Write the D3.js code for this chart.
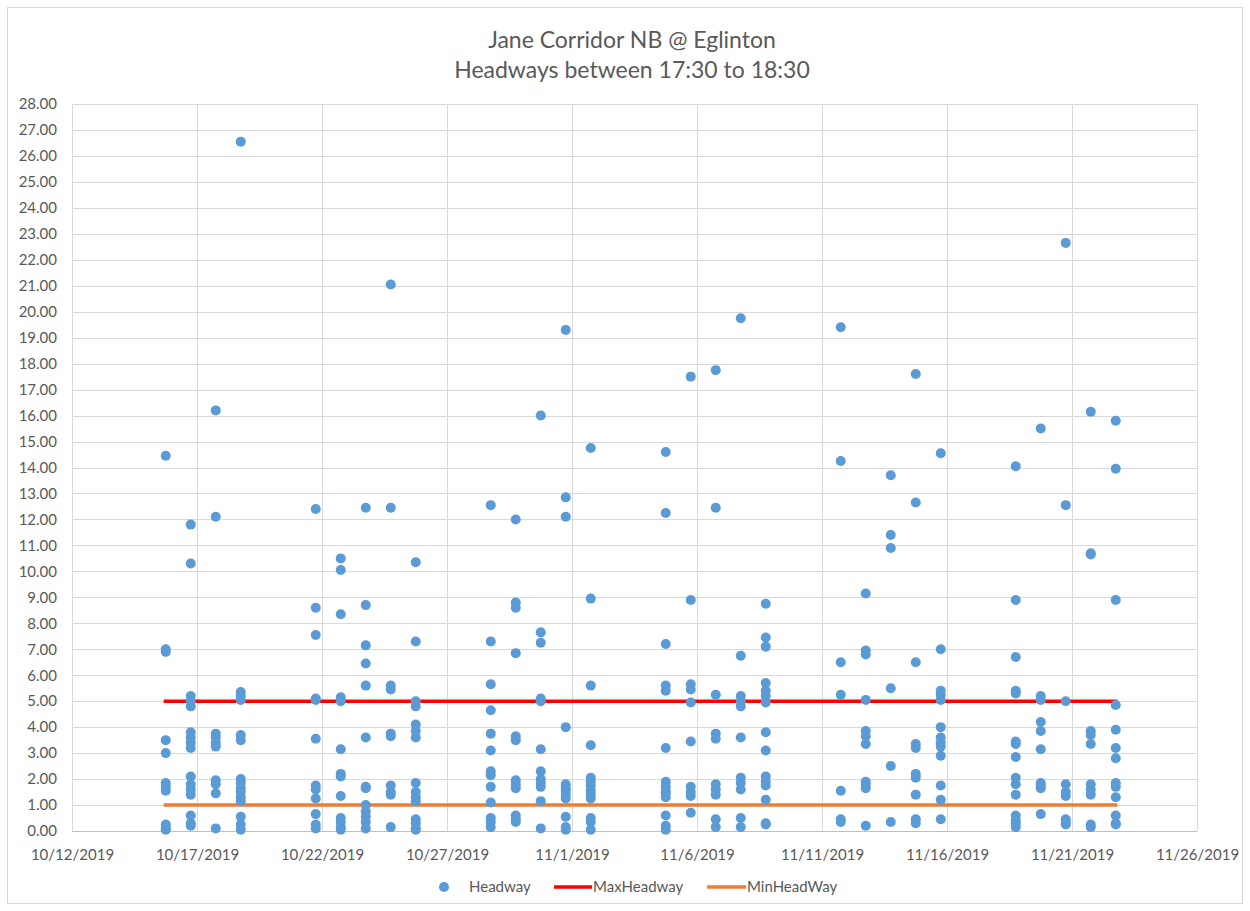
<!DOCTYPE html>
<html>
<head>
<meta charset="utf-8">
<script src="https://cdn.jsdelivr.net/npm/d3@7"></script>
<style>
  html, body { margin: 0; padding: 0; background: #fff; }
  svg { display: block; font-family: Lato, "Liberation Sans", sans-serif; }
</style>
</head>
<body>
<svg id="chart" width="1250" height="911"></svg>
<script>
// ---------- data ----------
const titleLines = ["Jane Corridor NB @ Eglinton", "Headways between 17:30 to 18:30"];

const serviceDates = [
  "2019-10-15", "2019-10-16", "2019-10-17", "2019-10-18",
  "2019-10-21", "2019-10-22", "2019-10-23", "2019-10-24", "2019-10-25",
  "2019-10-28", "2019-10-29", "2019-10-30", "2019-10-31", "2019-11-01",
  "2019-11-04", "2019-11-05", "2019-11-06", "2019-11-07", "2019-11-08",
  "2019-11-11", "2019-11-12", "2019-11-13", "2019-11-14", "2019-11-15",
  "2019-11-18", "2019-11-19", "2019-11-20", "2019-11-21", "2019-11-22"
];
const observationTime = "18:00";

const headways = [
  [14.45, 7.0, 6.9, 3.5, 3.0, 1.85, 1.7, 1.55, 0.25, 0.1, 0.05],
  [11.8, 10.3, 5.2, 5.0, 4.8, 3.8, 3.6, 3.4, 3.2, 2.1, 1.8, 1.6, 1.4, 0.6, 0.3, 0.2],
  [16.2, 12.1, 3.75, 3.6, 3.4, 3.25, 1.95, 1.8, 1.45, 0.1],
  [26.55, 5.35, 5.2, 5.05, 3.7, 3.5, 2.0, 1.85, 1.65, 1.5, 1.3, 1.15, 0.55, 0.25, 0.05],
  [12.4, 8.6, 7.55, 5.1, 5.05, 3.55, 1.75, 1.6, 1.25, 0.65, 0.25, 0.1],
  [10.5, 10.05, 8.35, 5.15, 5.0, 3.15, 2.2, 2.1, 1.35, 0.5, 0.35, 0.15, 0.05],
  [12.45, 8.7, 7.15, 6.45, 5.6, 3.6, 1.7, 1.65, 1.0, 0.75, 0.55, 0.35, 0.1],
  [21.05, 12.45, 5.6, 5.45, 3.75, 3.65, 1.75, 1.5, 1.4, 0.15],
  [10.35, 7.3, 5.0, 4.8, 4.1, 3.85, 3.6, 1.85, 1.5, 1.3, 1.15, 0.45, 0.3, 0.1, 0.05],
  [12.55, 7.3, 5.65, 4.65, 3.75, 3.1, 2.3, 2.15, 1.7, 1.1, 0.5, 0.35, 0.15],
  [12.0, 8.8, 8.6, 6.85, 3.65, 3.5, 1.95, 1.8, 1.65, 0.6, 0.45, 0.35],
  [16.0, 7.65, 7.25, 5.1, 5.0, 3.15, 2.3, 2.0, 1.85, 1.7, 1.15, 0.1],
  [19.3, 12.85, 12.1, 4.0, 1.8, 1.65, 1.55, 1.4, 1.25, 0.55, 0.15, 0.05],
  [14.75, 8.95, 5.6, 3.3, 2.05, 1.9, 1.75, 1.55, 1.4, 1.25, 0.5, 0.35, 0.05],
  [14.6, 12.25, 7.2, 5.6, 5.4, 3.2, 1.9, 1.7, 1.55, 1.45, 1.3, 0.6, 0.2, 0.05],
  [17.5, 8.9, 5.65, 5.45, 4.95, 3.45, 1.7, 1.5, 1.35, 0.7],
  [17.75, 12.45, 5.25, 3.75, 3.55, 1.8, 1.6, 1.4, 0.45, 0.15],
  [19.75, 6.75, 5.2, 5.0, 4.8, 3.6, 2.05, 1.85, 1.6, 0.5, 0.15],
  [8.75, 7.45, 7.1, 5.7, 5.4, 5.2, 4.95, 3.8, 3.1, 2.1, 1.9, 1.75, 1.2, 0.3, 0.25],
  [19.4, 14.25, 6.5, 5.25, 1.55, 0.45, 0.35],
  [9.15, 6.95, 6.8, 5.05, 3.85, 3.65, 3.35, 1.9, 1.8, 1.65, 0.2],
  [13.7, 11.4, 10.9, 5.5, 2.5, 0.35],
  [17.6, 12.65, 6.5, 3.35, 3.2, 2.2, 2.05, 1.4, 0.45, 0.3],
  [14.55, 7.0, 5.4, 5.25, 5.05, 4.0, 3.6, 3.4, 3.25, 2.9, 1.75, 1.2, 0.45],
  [14.05, 8.9, 6.7, 5.4, 5.3, 3.45, 3.35, 2.85, 2.05, 1.8, 1.4, 0.6, 0.4, 0.3, 0.15],
  [15.5, 5.2, 5.05, 4.2, 3.85, 3.15, 1.85, 1.75, 1.65, 0.65],
  [22.65, 12.55, 5.0, 1.8, 1.5, 1.35, 0.45, 0.35, 0.25],
  [16.15, 10.7, 10.65, 3.85, 3.7, 3.35, 1.8, 1.6, 1.4, 0.25, 0.15],
  [15.8, 13.95, 8.9, 4.85, 3.9, 3.2, 2.8, 1.85, 1.7, 1.3, 0.6, 0.3, 0.25]
];

const maxHeadway = 5;
const minHeadway = 1;
const thresholdSpan = ["2019-10-15 16:00", "2019-11-22 19:30"];

const xDomain = ["2019-10-12 00:00", "2019-11-26 00:00"];
const xTickDates = ["2019-10-12", "2019-10-17", "2019-10-22", "2019-10-27", "2019-11-01",
                    "2019-11-06", "2019-11-11", "2019-11-16", "2019-11-21", "2019-11-26"];
const yTicks = [0,1,2,3,4,5,6,7,8,9,10,11,12,13,14,15,16,17,18,19,20,21,22,23,24,25,26,27,28];

const legendItems = ["Headway", "MaxHeadway", "MinHeadWay"];

// ---------- drawing ----------
const parseDT = d3.timeParse("%Y-%m-%d %H:%M");
const parseD = d3.timeParse("%Y-%m-%d");

const colors = { point: "#5B9BD5", max: "#FF0000", min: "#ED7D31", grid: "#D9D9D9", text: "#595959" };

const svg = d3.select("#chart");
const W = 1250, H = 911;
const plot = { left: 72, right: 1197, top: 104, bottom: 831 };

// outer border
svg.append("rect").attr("x", 7.5).attr("y", 7.5).attr("width", W - 15).attr("height", H - 15)
  .attr("fill", "#fff").attr("stroke", "#D9D9D9").attr("stroke-width", 1);

const x = d3.scaleTime().domain(xDomain.map(parseDT)).range([plot.left, plot.right]);
const y = d3.scaleLinear().domain([0, 28]).range([plot.bottom, plot.top]);

// title
const title = svg.append("text").attr("text-anchor", "middle").attr("fill", colors.text)
  .style("font-size", "23px");
titleLines.forEach((t, i) => {
  title.append("tspan").attr("x", 632).attr("y", 48 + i * 30).text(t);
});

// horizontal gridlines
svg.append("g").attr("class", "ygrid")
  .selectAll("line").data(yTicks.filter(v => v > 0)).join("line")
  .attr("x1", plot.left).attr("x2", plot.right)
  .attr("y1", d => Math.round(y(d)) + 0.5).attr("y2", d => Math.round(y(d)) + 0.5)
  .attr("stroke", colors.grid).attr("stroke-width", 1);

// vertical gridlines
svg.append("g").attr("class", "xgrid")
  .selectAll("line").data(xTickDates.map(parseD)).join("line")
  .attr("x1", d => Math.round(x(d)) + 0.5).attr("x2", d => Math.round(x(d)) + 0.5)
  .attr("y1", plot.top).attr("y2", plot.bottom)
  .attr("stroke", colors.grid).attr("stroke-width", 1);

// x axis
const xAxis = d3.axisBottom(x).tickValues(xTickDates.map(parseD))
  .tickFormat(d3.timeFormat("%-m/%-d/%Y")).tickSize(0).tickPadding(18);
const gx = svg.append("g").attr("transform", `translate(0,${plot.bottom})`).call(xAxis);
gx.select(".domain").attr("stroke", "#BFBFBF").attr("d", `M${plot.left},0.5H${plot.right}`);
gx.selectAll("text").attr("fill", colors.text).style("font-size", "15px")
  .style("font-family", "Lato, 'Liberation Sans', sans-serif");

// y axis
const yAxis = d3.axisLeft(y).tickValues(yTicks).tickFormat(d3.format(".2f")).tickSize(0).tickPadding(15);
const gy = svg.append("g").attr("transform", `translate(${plot.left},0)`).call(yAxis);
gy.select(".domain").remove();
gy.selectAll("text").attr("fill", colors.text).style("font-size", "15px")
  .style("font-family", "Lato, 'Liberation Sans', sans-serif");

// threshold lines
const span = thresholdSpan.map(parseDT);
const thresholdLine = d3.line().x(d => x(d[0])).y(d => y(d[1]));
svg.append("path").datum(span.map(t => [t, minHeadway])).attr("d", thresholdLine)
  .attr("stroke", colors.min).attr("stroke-width", 3.5).attr("fill", "none");
svg.append("path").datum(span.map(t => [t, maxHeadway])).attr("d", thresholdLine)
  .attr("stroke", colors.max).attr("stroke-width", 3.5).attr("fill", "none");

// points
const points = [];
serviceDates.forEach((d, i) => {
  const t = parseDT(d + " " + observationTime);
  headways[i].forEach(v => points.push({ t, v }));
});
svg.append("g").attr("class", "points")
  .selectAll("circle").data(points).join("circle")
  .attr("cx", d => x(d.t)).attr("cy", d => y(d.v)).attr("r", 5)
  .attr("fill", colors.point);

// legend
const lg = svg.append("g").attr("class", "legend").style("font-size", "15px").attr("fill", colors.text);
const ly = 887;
lg.append("circle").attr("cx", 444).attr("cy", ly).attr("r", 5).attr("fill", colors.point);
lg.append("text").attr("x", 469).attr("y", ly + 5).text(legendItems[0]);
lg.append("line").attr("x1", 554).attr("x2", 592).attr("y1", ly).attr("y2", ly)
  .attr("stroke", colors.max).attr("stroke-width", 3.5);
lg.append("text").attr("x", 593).attr("y", ly + 5).text(legendItems[1]);
lg.append("line").attr("x1", 707).attr("x2", 746).attr("y1", ly).attr("y2", ly)
  .attr("stroke", colors.min).attr("stroke-width", 3.5);
lg.append("text").attr("x", 747).attr("y", ly + 5).text(legendItems[2]);
</script>
</body>
</html>
